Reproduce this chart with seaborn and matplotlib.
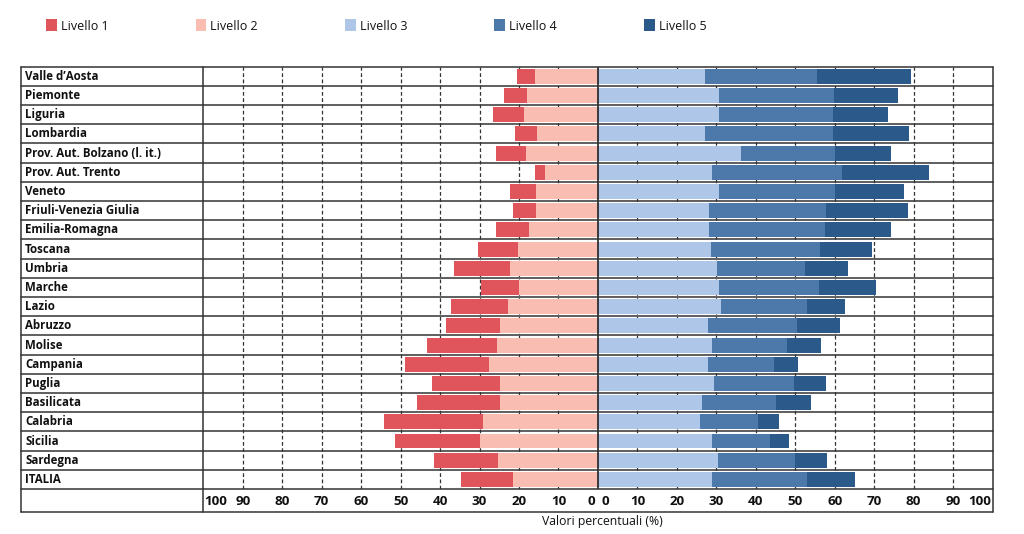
import numpy as np
import pandas as pd
import matplotlib
matplotlib.use("Agg")
import matplotlib.pyplot as plt
from matplotlib.patches import Patch
from matplotlib.lines import Line2D
import seaborn as sns

regions = ["Valle d\u2019Aosta", "Piemonte", "Liguria", "Lombardia",
           "Prov. Aut. Bolzano (l. it.)", "Prov. Aut. Trento", "Veneto",
           "Friuli-Venezia Giulia", "Emilia-Romagna", "Toscana", "Umbria",
           "Marche", "Lazio", "Abruzzo", "Molise", "Campania", "Puglia",
           "Basilicata", "Calabria", "Sicilia", "Sardegna", "ITALIA"]
livello1 = [4.7, 5.9, 7.7, 5.7, 7.4, 2.6, 6.7, 5.7, 8.2, 10.2, 14.0,
            9.4, 14.5, 13.7, 17.9, 21.3, 17.4, 21.0, 25.0, 21.5, 16.4, 13.0]
livello2 = [15.9, 18.0, 18.8, 15.4, 18.3, 13.4, 15.7, 15.7, 17.5, 20.3, 22.4,
            20.1, 22.8, 24.8, 25.5, 27.7, 24.7, 24.9, 29.1, 29.8, 25.2, 21.6]
livello3 = [27.1, 30.8, 30.8, 27.1, 36.2, 29.0, 30.6, 28.2, 28.2, 28.6, 30.3,
            30.8, 31.1, 28.0, 29.0, 27.9, 29.3, 26.3, 25.8, 28.8, 30.5, 28.8]
livello4 = [28.3, 29.0, 28.7, 32.4, 23.8, 32.9, 29.4, 29.7, 29.3, 27.6, 22.2,
            25.2, 21.8, 22.5, 18.8, 16.7, 20.3, 18.8, 14.8, 14.9, 19.4, 24.1]
livello5 = [23.9, 16.2, 13.9, 19.4, 14.2, 21.9, 17.5, 20.6, 16.7, 13.2, 11.0,
            14.4, 9.6, 10.9, 8.7, 6.2, 8.2, 8.9, 5.2, 4.8, 8.2, 12.3]
level_names = ["Livello 1", "Livello 2", "Livello 3", "Livello 4", "Livello 5"]
tick_values = [0, 10, 20, 30, 40, 50, 60, 70, 80, 90, 100]
x_label = "Valori percentuali (%)"

colors = ["#E0555B", "#F9BDB2", "#AEC6E8", "#4D78AA", "#2B5A8A"]

sns.set_theme(style="white")
plt.rcParams["font.family"] = ["Open Sans", "DejaVu Sans"]

df = pd.DataFrame({"region": regions, "l1": livello1, "l2": livello2,
                   "l3": livello3, "l4": livello4, "l5": livello5})
df["neg12"] = -(df["l1"] + df["l2"])
df["neg2"] = -df["l2"]
df["c3"] = df["l3"]
df["c4"] = df["l3"] + df["l4"]
df["c5"] = df["l3"] + df["l4"] + df["l5"]

W, H = 1024, 534
fig = plt.figure(figsize=(W / 100, H / 100), dpi=100)

x0, x1 = 203.3, 992.5
y_top, y_rows_bottom, y_bottom = 66.7, 489.0, 511.5
left_frame = 20.7
ax = fig.add_axes([x0 / W, 1 - y_rows_bottom / H, (x1 - x0) / W,
                   (y_rows_bottom - y_top) / H])

n = len(regions)
bw = 0.78
for col, c in [("neg12", colors[0]), ("neg2", colors[1]),
               ("c5", colors[4]), ("c4", colors[3]), ("c3", colors[2])]:
    sns.barplot(data=df, x=col, y="region", order=regions, orient="h",
                color=c, width=bw, saturation=1, ax=ax, zorder=3,
                linewidth=0, edgecolor="none")

ax.set_xlim(-100, 100)
ax.set_ylim(n - 0.5, -0.5)
ax.set_xlabel("")
ax.set_ylabel("")
ax.set_xticks([])
ax.set_yticks([])
for s in ax.spines.values():
    s.set_visible(False)

# dashed grid
for v in tick_values[1:-1]:
    for sgn in (-1, 1):
        ax.axvline(sgn * v, color="#333333", lw=0.9, ls=(0, (3, 2)), zorder=1)
ax.axvline(0, color="#222222", lw=1.2, zorder=4)

# table lines (figure coords)
line_kw = dict(color="#333333", lw=1.1, transform=fig.transFigure, zorder=5)
bounds = np.linspace(y_top, y_rows_bottom, n + 1)
for yb in bounds:
    fig.add_artist(Line2D([left_frame / W, x1 / W], [1 - yb / H, 1 - yb / H], **line_kw))
fig.add_artist(Line2D([left_frame / W, x1 / W], [1 - y_bottom / H, 1 - y_bottom / H], **line_kw))
for xv in (left_frame, x0, x1):
    fig.add_artist(Line2D([xv / W, xv / W], [1 - y_top / H, 1 - y_bottom / H], **line_kw))

# region labels
label_font = dict(fontsize=8.3, fontweight="bold", color="#111111")
for i, r in enumerate(regions):
    yc = (bounds[i] + bounds[i + 1]) / 2
    fig.text((left_frame + 4.5) / W, 1 - yc / H, r, ha="left", va="center", **label_font)

# tick labels in bottom row
y_tick = 1 - ((y_rows_bottom + y_bottom) / 2 + 1) / H
tick_font = dict(fontsize=9.6, fontweight="bold", color="#111111")
trans = matplotlib.transforms.blended_transform_factory(ax.transData, fig.transFigure)
for v in tick_values:
    for sgn in (-1, 1):
        if v == 0:
            ha = "right" if sgn < 0 else "left"
            off = -0.8 if sgn < 0 else 0.8
        elif v == 100:
            ha = "left" if sgn < 0 else "right"
            off = 0.3 if sgn < 0 else -0.3
        else:
            ha, off = "center", 0.0
        ax.text(sgn * v + off, y_tick, str(v), ha=ha, va="center",
                transform=trans, **tick_font)

fig.text((x0 + x1) / 2 / W + 4 / W, 1 - 522 / H, x_label, ha="center", va="center",
         fontsize=8.8, color="#111111")

# legend
handles = [Patch(facecolor=c, edgecolor="none") for c in colors]
leg = fig.legend(handles, level_names, loc="center left",
                 bbox_to_anchor=(41 / W, 1 - 26 / H), ncol=5, frameon=False,
                 fontsize=9, handlelength=0.85, handleheight=1.1,
                 handletextpad=0.35, columnspacing=6.95, borderaxespad=0)
for t in leg.get_texts():
    t.set_fontweight("medium")
    t.set_color("#111111")

fig.savefig("out.png", dpi=100, facecolor="white")
